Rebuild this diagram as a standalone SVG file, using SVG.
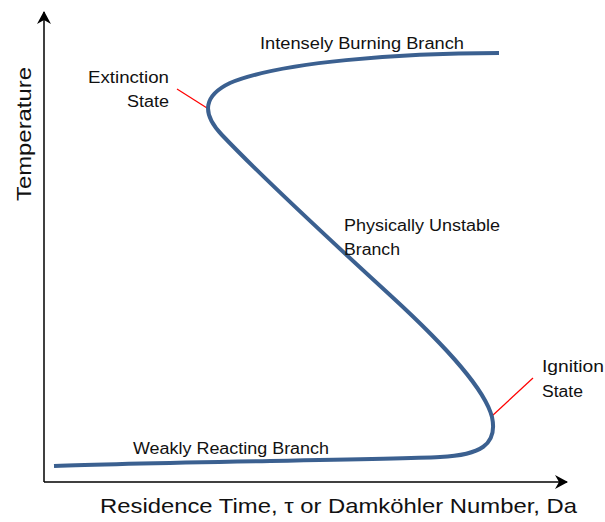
<svg xmlns="http://www.w3.org/2000/svg" width="605" height="522" viewBox="0 0 605 522">
<defs>
<style>
text{font-family:"Liberation Sans",Arial,sans-serif;fill:#111;}
.lbl{font-size:16px;}
.ax{font-size:21px;}
.axis{stroke:#000;stroke-width:1.5;fill:none;}
.lead{stroke:#ff0000;stroke-width:1.2;}
.curve{stroke:#3b6090;stroke-width:4;fill:none;stroke-linecap:butt;}
</style>
<marker id="ah" markerWidth="14" markerHeight="14" refX="12" refY="7" orient="auto" markerUnits="userSpaceOnUse">
<path d="M0,0 L13,7 L0,14 L4,7 Z" fill="#000"/>
</marker>
</defs>
<rect width="605" height="522" fill="#fff"/>
<g id="connectors">
<path class="axis" d="M44,482 L44,12" marker-end="url(#ah)"/>
<path class="axis" d="M44,482 L567,482" marker-end="url(#ah)"/>
<line class="lead" x1="177" y1="89" x2="207" y2="108"/>
<line class="lead" x1="492" y1="416" x2="533" y2="378"/>
</g>
<g id="curve">
<path class="curve" d="M54,466 C150,462 380,460 440,457 C480,455 498,445 492,417 C485,390 450,350 390,295 C330,240 260,175 222,135 C200,112 205,95 230,83 C280,62 400,53 499,53"/>
</g>
<g id="labels">
<text class="lbl" x="260" y="49" textLength="204" lengthAdjust="spacingAndGlyphs">Intensely Burning Branch</text>
<text class="lbl" x="88" y="83" textLength="81" lengthAdjust="spacingAndGlyphs">Extinction</text>
<text class="lbl" x="127" y="107" textLength="42" lengthAdjust="spacingAndGlyphs">State</text>
<text class="lbl" x="344" y="231" textLength="156" lengthAdjust="spacingAndGlyphs">Physically Unstable</text>
<text class="lbl" x="344" y="255" textLength="56" lengthAdjust="spacingAndGlyphs">Branch</text>
<text class="lbl" x="542" y="372" textLength="62" lengthAdjust="spacingAndGlyphs">Ignition</text>
<text class="lbl" x="542" y="397" textLength="41" lengthAdjust="spacingAndGlyphs">State</text>
<text class="lbl" x="133" y="454" textLength="196" lengthAdjust="spacingAndGlyphs">Weakly Reacting Branch</text>
<text class="ax" x="100" y="513" textLength="477" lengthAdjust="spacingAndGlyphs">Residence Time, τ or Damköhler Number, Da</text>
<text class="ax" transform="translate(31,201) rotate(-90)" textLength="134" lengthAdjust="spacingAndGlyphs">Temperature</text>
</g>
</svg>
